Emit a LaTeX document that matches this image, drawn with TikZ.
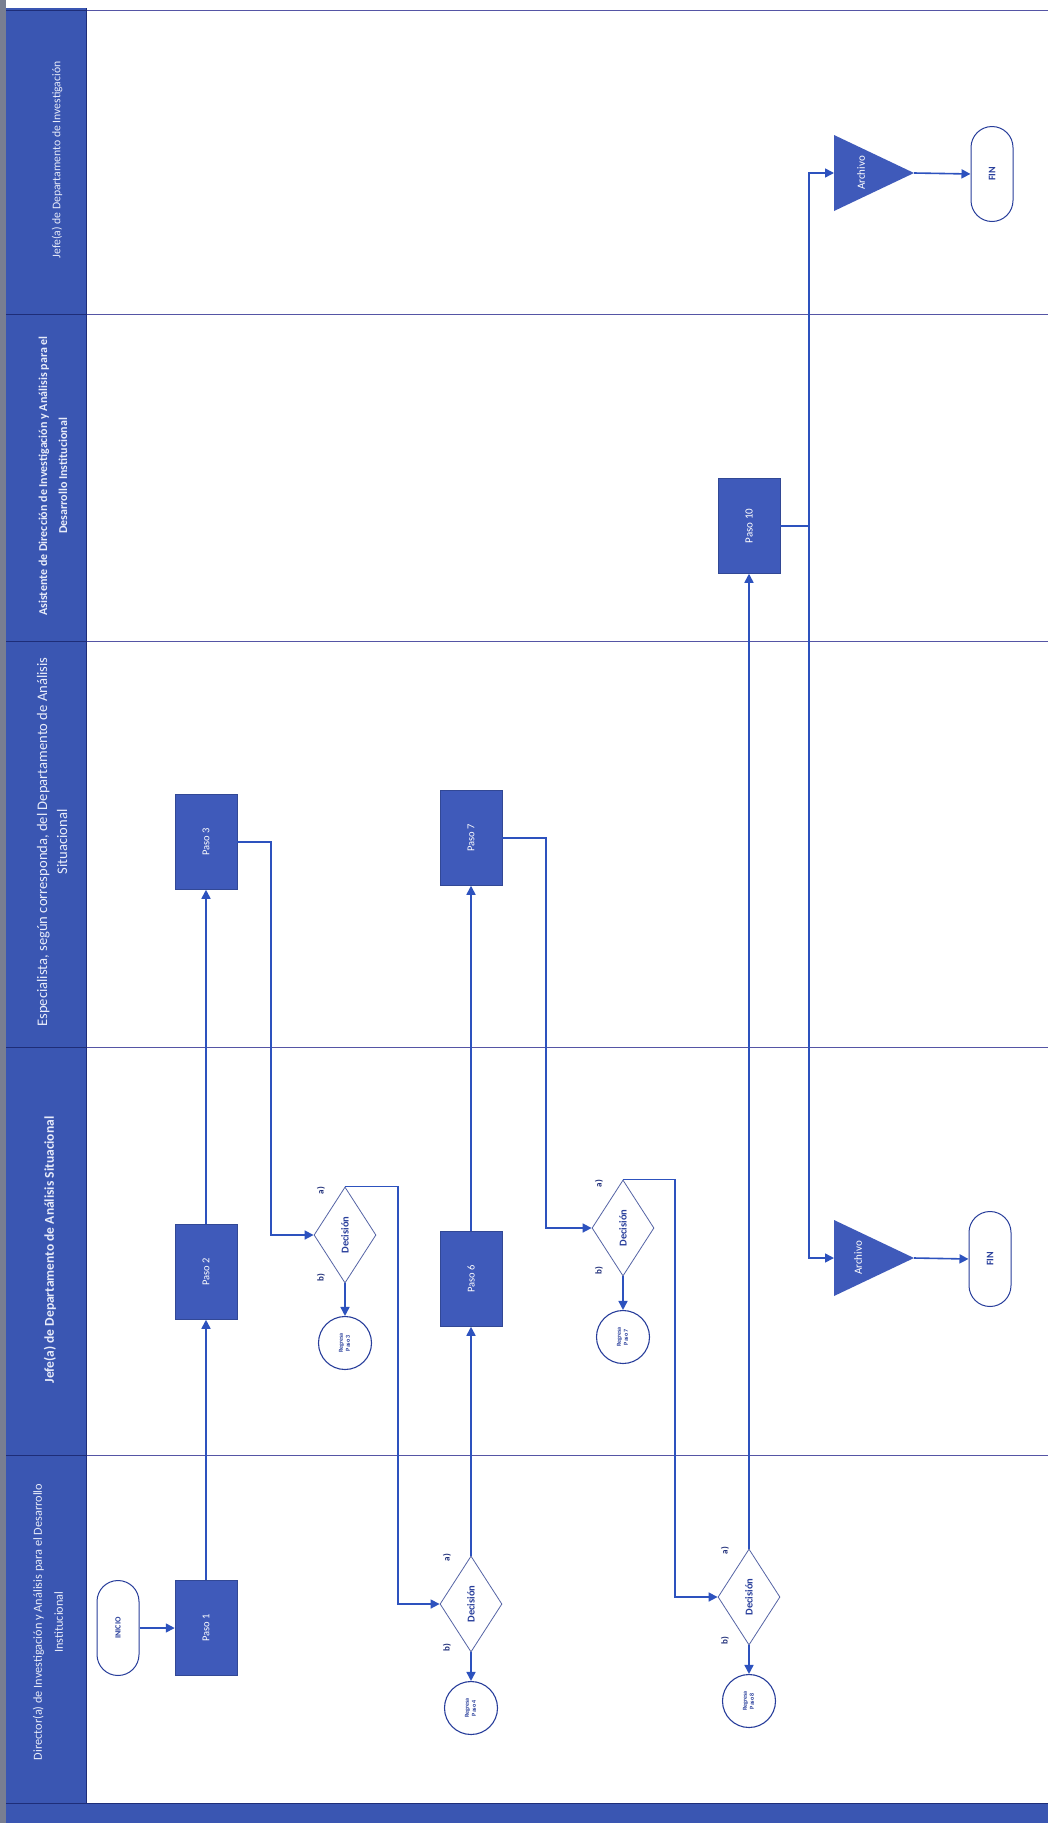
\documentclass[tikz,border=0pt]{standalone}
\usepackage{fontspec}
\setmainfont{Carlito}
\usetikzlibrary{shapes.geometric,arrows.meta,calc}
\definecolor{hdr}{RGB}{58,86,178}
\definecolor{navy}{RGB}{30,45,120}
\definecolor{stripgray}{RGB}{120,126,145}
\definecolor{boxblue}{RGB}{63,90,186}
\definecolor{lineblue}{RGB}{45,82,190}
\definecolor{laneline}{RGB}{85,85,165}
\definecolor{diaedge}{RGB}{85,100,165}
\definecolor{txtblue}{RGB}{40,62,155}
\definecolor{hdrtxt}{RGB}{232,236,250}
\begin{document}
\begin{tikzpicture}[x=1pt,y=-1pt,
  hdrtext/.style={rotate=90, text=hdrtxt, inner sep=0pt, align=center},
  pasobox/.style={rectangle, fill=boxblue, draw=boxblue!80!black, line width=0.5pt, minimum width=62pt, minimum height=95pt, inner sep=0pt, text=white, font=\fontsize{10.5}{12}\selectfont},
  term/.style={rectangle, rounded corners=21pt, draw=txtblue, line width=1pt, fill=white, minimum width=42pt, minimum height=95pt, inner sep=0pt, text=txtblue, font=\bfseries\fontsize{8}{9}\selectfont},
  decide/.style={diamond, draw=diaedge, line width=0.8pt, fill=white, minimum width=62pt, minimum height=96pt, inner sep=0pt, text=txtblue, font=\bfseries\fontsize{10.5}{12}\selectfont},
  regresa/.style={circle, draw=txtblue, line width=1.1pt, fill=white, minimum size=53pt, inner sep=0pt, text=txtblue, font=\bfseries\fontsize{6}{7}\selectfont},
  lbl/.style={rotate=90, font=\bfseries\fontsize{9}{10}\selectfont, text=navy, inner sep=0pt},
  tritext/.style={text=white, inner sep=0pt, font=\fontsize{11}{12}\selectfont},
  conn/.style={draw=lineblue, line width=1.6pt, -{Triangle[length=9pt,width=9pt]}},
  plainline/.style={draw=lineblue, line width=1.6pt},
  lanerule/.style={draw=laneline, line width=0.9pt}
]
\useasboundingbox (0,0) rectangle (1048,1823);
\fill[white] (0,0) rectangle (1048,1823);
% left strip and header column
\fill[stripgray] (0,0) rectangle (6,1823);
\fill[hdr] (6,8) rectangle (86,1803);
\fill[hdr] (6,1803) rectangle (1048,1823);
% lane rules
\foreach \yy in {10,314,641,1047,1455} {
  \draw[lanerule] (86,\yy) -- (1048,\yy);
  \draw[navy, line width=1pt] (6,\yy) -- (86,\yy);
}
\draw[navy, line width=1pt] (86,8) -- (86,1803);
\draw[navy, line width=1pt] (6,1803) -- (1048,1803);

% lane titles
\node[hdrtext, font=\fontsize{11.7}{14}\selectfont] (t1) at (57,160) {Jefe(a) de Departamento de Investigación};
\node[hdrtext, font=\bfseries\fontsize{12}{20}\selectfont] (t2) at (53,476) {Asistente de Dirección de Investigación y Análisis para el\\Desarrollo Institucional};
\node[hdrtext, font=\fontsize{14.6}{20}\selectfont] (t3) at (52,842) {Especialista, según corresponda, del Departamento de Análisis\\Situacional};
\node[hdrtext, font=\bfseries\fontsize{13.5}{16}\selectfont] (t4) at (50,1250) {Jefe(a) de Departamento de Análisis Situacional};
\node[hdrtext, font=\fontsize{12.3}{21}\selectfont] (t5) at (48,1622) {Director(a) de Investigación y Análisis para el Desarrollo\\Institucional};

% Director lane
\node[term] (ini) at (118,1628) {\rotatebox{90}{INICIO}};
\node[pasobox] (p1) at (206,1628) {\rotatebox{90}{Paso 1}};
\node[decide] (d3) at (471,1604) {\rotatebox{90}{Decisión}};
\node[regresa] (r4) at (471,1708) {\rotatebox{90}{\begin{tabular}{@{}c@{}}Regresa\\Paso 4\end{tabular}}};
\node[decide] (d4) at (749,1597) {\rotatebox{90}{Decisión}};
\node[regresa] (r8) at (749,1701) {\rotatebox{90}{\begin{tabular}{@{}c@{}}Regresa\\Paso 8\end{tabular}}};

% Jefe Analisis lane
\node[pasobox] (p2) at (206,1272) {\rotatebox{90}{Paso 2}};
\node[decide] (d1) at (345,1235) {\rotatebox{90}{Decisión}};
\node[regresa] (r3) at (345,1343) {\rotatebox{90}{\begin{tabular}{@{}c@{}}Regresa\\Paso 3\end{tabular}}};
\node[pasobox] (p6) at (471,1279) {\rotatebox{90}{Paso 6}};
\node[decide] (d2) at (623,1228) {\rotatebox{90}{Decisión}};
\node[regresa] (r7) at (623,1337) {\rotatebox{90}{\begin{tabular}{@{}c@{}}Regresa\\Paso 7\end{tabular}}};

% Especialista lane
\node[pasobox] (p3) at (206,842) {\rotatebox{90}{Paso 3}};
\node[pasobox] (p7) at (471,838) {\rotatebox{90}{Paso 7}};

% Asistente lane
\node[pasobox, font=\fontsize{11}{12}\selectfont] (p10) at (749,526) {\rotatebox{90}{Paso 10}};

% Archivo triangles and FIN
\fill[boxblue] (834,135) -- (914,173) -- (834,211) -- cycle;
\coordinate (a1in) at (834,173);
\coordinate (a1out) at (914,173);
\node[tritext] (a1) at (861,173) {\rotatebox{90}{Archivo}};
\node[term, font=\bfseries\fontsize{10}{11}\selectfont] (fin1) at (992,174) {\rotatebox{90}{FIN}};

\fill[boxblue] (834,1220) -- (914,1258) -- (834,1296) -- cycle;
\coordinate (a2in) at (834,1258);
\coordinate (a2out) at (914,1258);
\node[tritext] (a2) at (858,1258) {\rotatebox{90}{Archivo}};
\node[term, font=\bfseries\fontsize{10}{11}\selectfont] (fin2) at (990,1259) {\rotatebox{90}{FIN}};

% a) b) labels
\node[lbl] (la1) at ($(d1.north)+(-24,4)$) {a)};
\node[lbl] (lb1) at ($(d1.south)+(-24,-6)$) {b)};
\node[lbl] (la2) at ($(d2.north)+(-24,4)$) {a)};
\node[lbl] (lb2) at ($(d2.south)+(-24,-6)$) {b)};
\node[lbl] (la3) at ($(d3.north)+(-24,2)$) {a)};
\node[lbl] (lb3) at ($(d3.south)+(-24,-5)$) {b)};
\node[lbl] (la4) at ($(d4.north)+(-24,2)$) {a)};
\node[lbl] (lb4) at ($(d4.south)+(-24,-5)$) {b)};

% connectors
\draw[conn] (ini.east) -- (p1.west);
\draw[conn] (p1.north) -- (p2.south);
\draw[conn] (p2.north) -- (p3.south);
\draw[conn] (p3.east) -- ($(p3.east)+(34,0)$) |- (d1.west);
\draw[conn] (d1.north) -- ($(d1.north)+(53,0)$) |- (d3.west);
\draw[conn] (d1.south) -- (r3.north);
\draw[conn] (d3.north) -- (p6.south);
\draw[conn] (d3.south) -- (r4.north);
\draw[conn] (p6.north) -- (p7.south);
\draw[conn] (p7.east) -- ($(p7.east)+(44,0)$) |- (d2.west);
\draw[conn] (d2.north) -- ($(d2.north)+(52,0)$) |- (d4.west);
\draw[conn] (d2.south) -- (r7.north);
\draw[conn] (d4.north) -- (p10.south);
\draw[conn] (d4.south) -- (r8.north);
\draw[plainline] (p10.east) -- ($(p10.east)+(29,0)$) coordinate (split);
\draw[conn] (split) |- (a1in);
\draw[conn] (split) |- (a2in);
\draw[conn] (a1out) -- (fin1.west);
\draw[conn] (a2out) -- (fin2.west);
\end{tikzpicture}
\end{document}
